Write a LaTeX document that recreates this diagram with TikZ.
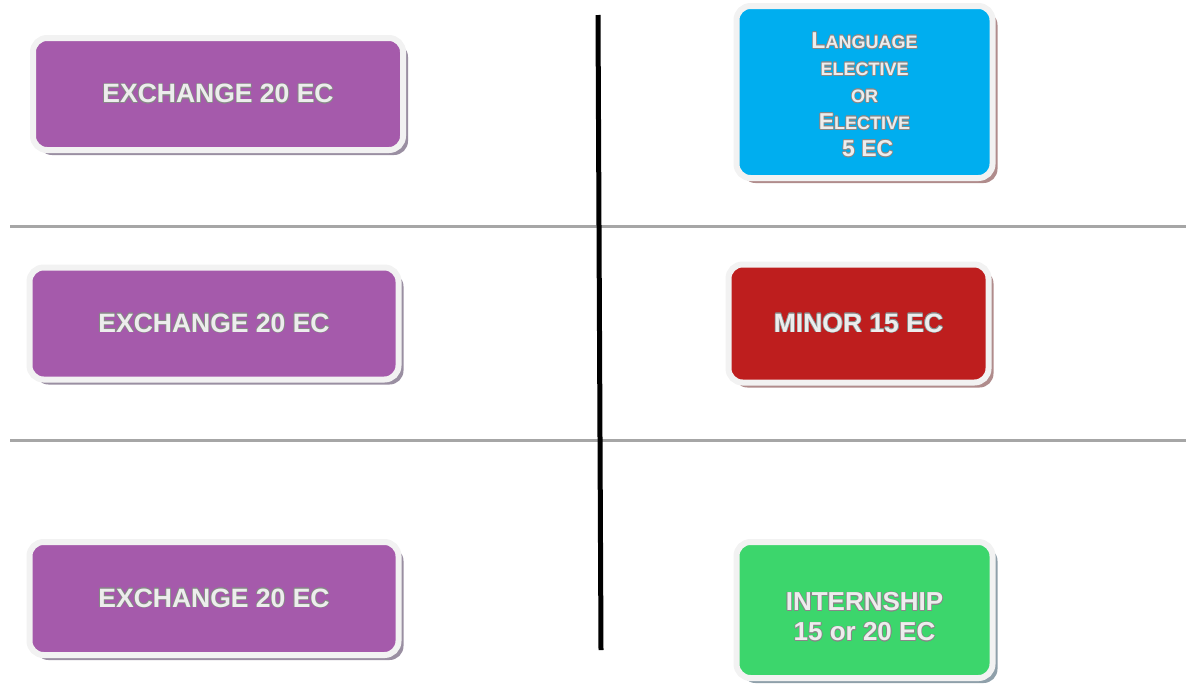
\documentclass[tikz,border=0pt]{standalone}
\usepackage{fontspec}
\setmainfont{Liberation Sans}
\usepackage[copies]{contour}
\usetikzlibrary{shadows}
\definecolor{purplebox}{HTML}{A55AAB}
\definecolor{bluebox}{HTML}{00AEEF}
\definecolor{redbox}{HTML}{BE1E1E}
\definecolor{greenbox}{HTML}{3CD66C}
\definecolor{boxrim}{HTML}{F2F2F2}
\definecolor{txt}{HTML}{EDEDED}
\definecolor{txtshade}{HTML}{888888}
\definecolor{shpurple}{HTML}{9A8FA2}
\definecolor{shrose}{HTML}{B08C8C}
\definecolor{shgreen}{HTML}{8FA0AA}
\definecolor{rule}{HTML}{A6A6A6}
\contourlength{0.6pt}
\newcommand{\ct}[1]{\contour{txtshade}{#1}}
\newcommand{\bigc}[1]{{\fontsize{23}{27}\selectfont\ct{#1}}}
\newcommand{\smc}[1]{{\fontsize{18}{27}\selectfont\ct{#1}}}
\tikzset{
  card/.style={rounded corners=14pt, draw=boxrim, line width=6pt, inner sep=0pt,
    align=center, text=txt, font=\bfseries\fontsize{26.5}{30}\selectfont},
  cardsh/.style={drop shadow={shadow xshift=5pt, shadow yshift=-5pt, fill=#1, opacity=1}},
  cardtext/.style={inner sep=0pt, align=center, text=txt},
  hrule/.style={draw=rule, line width=3pt},
  vrule/.style={draw=black, line width=5pt}
}
\begin{document}
\begin{tikzpicture}[x=1pt,y=-1pt]
\useasboundingbox (0,0) rectangle (1186,686);
% separators
\coordinate (h1a) at (10,226); \coordinate (h1b) at (1186,226);
\coordinate (h2a) at (10,440); \coordinate (h2b) at (1186,440);
\coordinate (va) at (598,15); \coordinate (vb) at (601,650);
\draw[hrule] (h1a) -- (h1b);
\draw[hrule] (h2a) -- (h2b);
\draw[vrule] (va) -- (vb);
% left boxes
\node[card, cardsh=shpurple, fill=purplebox, minimum width=370pt, minimum height=112pt] (ex1) at (218,94) {\ct{EXCHANGE 20 EC}};
\node[card, cardsh=shpurple, fill=purplebox, minimum width=369pt, minimum height=112pt] (ex2) at (214,323.5) {\ct{EXCHANGE 20 EC}};
\node[card, cardsh=shpurple, fill=purplebox, minimum width=369pt, minimum height=113pt] (ex3) at (214,598.5) {\ct{EXCHANGE 20 EC}};
% right boxes
\node[card, cardsh=shrose, fill=bluebox, minimum width=256pt, minimum height=172pt] (lang) at (864.5,92) {};
\node[cardtext, font=\bfseries\fontsize{18}{27}\selectfont] (langt) at (864.5,95)
  {\bigc{L}\smc{ANGUAGE}\\ \smc{ELECTIVE}\\ \smc{OR}\\ \bigc{E}\smc{LECTIVE}\\ \bigc{\ 5 EC}};
\node[card, cardsh=shrose, fill=redbox, minimum width=260pt, minimum height=118pt] (minor) at (858.5,323.5) {\ct{MINOR 15 EC}};
\node[card, cardsh=shgreen, fill=greenbox, minimum width=256pt, minimum height=136pt] (intern) at (864.5,610) {};
\node[cardtext, font=\bfseries\fontsize{26}{30}\selectfont] (interntt) at (864.5,617) {\ct{INTERNSHIP}\\ \ct{15 or 20 EC}};
\end{tikzpicture}
\end{document}
